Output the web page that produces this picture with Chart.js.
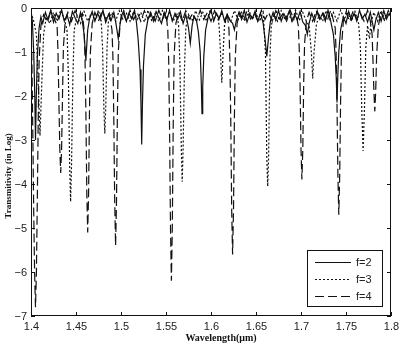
<!DOCTYPE html>
<html>
<head>
<meta charset="utf-8">
<script src="https://cdn.jsdelivr.net/npm/chart.js@4"></script>
<style>
  html, body { margin: 0; padding: 0; background: #fff; }
  canvas { display: block; }
</style>
</head>
<body>
<canvas id="spectrum" width="400" height="348"></canvas>
<script>
// axis ticks
const xTicks = [1.4, 1.45, 1.5, 1.55, 1.6, 1.65, 1.7, 1.75, 1.8];
const yTicks = [0, -1, -2, -3, -4, -5, -6, -7];
const seriesNames = ['f=2', 'f=3', 'f=4'];

// f=2 (solid)
const wl2 = [1.400, 1.4015, 1.403, 1.4042, 1.405, 1.4058, 1.407, 1.409, 1.411, 1.413, 1.416, 1.419, 1.422, 1.425, 1.428, 1.431, 1.434, 1.437, 1.440, 1.443, 1.446, 1.449, 1.452, 1.455, 1.457, 1.459, 1.4602, 1.461, 1.4618, 1.463, 1.465, 1.468, 1.471, 1.474, 1.477, 1.480, 1.483, 1.486, 1.489, 1.492, 1.494, 1.4955, 1.497, 1.4985, 1.500, 1.503, 1.506, 1.509, 1.512, 1.515, 1.517, 1.519, 1.5212, 1.5222, 1.523, 1.5238, 1.525, 1.527, 1.530, 1.533, 1.536, 1.539, 1.542, 1.545, 1.548, 1.551, 1.554, 1.557, 1.560, 1.563, 1.566, 1.569, 1.572, 1.575, 1.577, 1.579, 1.581, 1.584, 1.586, 1.588, 1.5892, 1.590, 1.5908, 1.592, 1.594, 1.597, 1.600, 1.603, 1.606, 1.609, 1.612, 1.615, 1.618, 1.621, 1.624, 1.626, 1.628, 1.631, 1.634, 1.637, 1.640, 1.643, 1.646, 1.649, 1.652, 1.655, 1.658, 1.660, 1.662, 1.664, 1.666, 1.669, 1.672, 1.675, 1.678, 1.681, 1.684, 1.687, 1.690, 1.693, 1.696, 1.699, 1.702, 1.705, 1.707, 1.709, 1.712, 1.715, 1.718, 1.721, 1.724, 1.727, 1.730, 1.733, 1.736, 1.738, 1.7392, 1.740, 1.7408, 1.742, 1.744, 1.747, 1.750, 1.753, 1.756, 1.759, 1.762, 1.765, 1.768, 1.771, 1.774, 1.777, 1.779, 1.781, 1.783, 1.786, 1.789, 1.792, 1.795, 1.798, 1.800];
const t2 = [-0.05, -0.3, -1.0, -2.0, -3.0, -2.1, -1.1, -0.45, -0.2, -0.35, -0.1, -0.28, -0.05, -0.32, -0.12, -0.25, -0.04, -0.3, -0.15, -0.38, -0.08, -0.22, -0.35, -0.1, -0.3, -0.6, -0.95, -1.2, -0.9, -0.5, -0.25, -0.08, -0.3, -0.12, -0.26, -0.05, -0.33, -0.15, -0.28, -0.1, -0.3, -0.5, -0.7, -0.45, -0.2, -0.06, -0.3, -0.12, -0.25, -0.05, -0.3, -0.7, -1.4, -2.2, -3.1, -2.2, -1.3, -0.6, -0.25, -0.1, -0.3, -0.08, -0.22, -0.35, -0.1, -0.27, -0.05, -0.3, -0.12, -0.25, -0.08, -0.35, -0.15, -0.45, -0.8, -0.4, -0.2, -0.3, -0.55, -1.0, -1.7, -2.4, -1.8, -1.1, -0.5, -0.2, -0.05, -0.3, -0.12, -0.25, -0.06, -0.3, -0.15, -0.28, -0.35, -0.5, -0.3, -0.1, -0.26, -0.05, -0.32, -0.14, -0.24, -0.07, -0.3, -0.12, -0.35, -0.7, -1.1, -0.65, -0.3, -0.1, -0.28, -0.05, -0.3, -0.13, -0.25, -0.06, -0.3, -0.15, -0.27, -0.08, -0.32, -0.4, -0.6, -0.35, -0.12, -0.3, -0.06, -0.25, -0.12, -0.3, -0.05, -0.3, -0.6, -1.1, -1.6, -2.15, -1.6, -1.0, -0.5, -0.2, -0.35, -0.08, -0.27, -0.12, -0.3, -0.05, -0.25, -0.14, -0.32, -0.1, -0.3, -0.5, -0.28, -0.1, -0.3, -0.06, -0.25, -0.12, -0.2];

// f=3 (dotted)
const wl3 = [1.400, 1.403, 1.406, 1.4075, 1.409, 1.410, 1.411, 1.4125, 1.414, 1.417, 1.421, 1.425, 1.429, 1.433, 1.437, 1.440, 1.4415, 1.443, 1.444, 1.445, 1.4465, 1.448, 1.451, 1.455, 1.459, 1.463, 1.467, 1.471, 1.475, 1.478, 1.4795, 1.481, 1.482, 1.483, 1.4845, 1.486, 1.490, 1.494, 1.498, 1.502, 1.506, 1.510, 1.514, 1.518, 1.522, 1.526, 1.530, 1.534, 1.538, 1.542, 1.546, 1.550, 1.554, 1.558, 1.562, 1.564, 1.5655, 1.567, 1.568, 1.569, 1.5705, 1.572, 1.575, 1.579, 1.583, 1.587, 1.591, 1.595, 1.599, 1.603, 1.607, 1.609, 1.6105, 1.612, 1.6135, 1.615, 1.618, 1.622, 1.626, 1.630, 1.634, 1.638, 1.642, 1.646, 1.650, 1.654, 1.658, 1.6605, 1.662, 1.663, 1.664, 1.6655, 1.667, 1.670, 1.674, 1.678, 1.682, 1.686, 1.690, 1.694, 1.698, 1.702, 1.706, 1.709, 1.7115, 1.713, 1.7145, 1.717, 1.720, 1.724, 1.728, 1.732, 1.736, 1.740, 1.744, 1.748, 1.752, 1.756, 1.760, 1.764, 1.766, 1.7675, 1.769, 1.7705, 1.772, 1.774, 1.776, 1.778, 1.781, 1.785, 1.789, 1.793, 1.797, 1.800];
const t3 = [-0.1, -0.3, -0.6, -1.4, -2.3, -2.9, -2.3, -1.4, -0.6, -0.2, -0.35, -0.1, -0.3, -0.05, -0.25, -0.5, -1.5, -3.6, -4.4, -3.6, -1.6, -0.5, -0.2, -0.35, -0.08, -0.3, -0.12, -0.28, -0.05, -0.3, -0.9, -2.3, -2.85, -2.3, -0.9, -0.3, -0.1, -0.3, -0.06, -0.25, -0.12, -0.3, -0.08, -0.26, -0.1, -0.32, -0.05, -0.28, -0.12, -0.3, -0.06, -0.25, -0.1, -0.3, -0.12, -0.4, -1.3, -3.2, -3.95, -3.2, -1.4, -0.45, -0.15, -0.3, -0.06, -0.27, -0.1, -0.3, -0.05, -0.25, -0.12, -0.4, -1.0, -1.7, -1.0, -0.4, -0.15, -0.3, -0.06, -0.26, -0.1, -0.3, -0.05, -0.25, -0.12, -0.3, -0.1, -1.0, -3.4, -4.05, -3.4, -1.1, -0.4, -0.15, -0.3, -0.06, -0.25, -0.12, -0.3, -0.05, -0.28, -0.1, -0.3, -0.4, -1.0, -1.6, -1.0, -0.4, -0.15, -0.3, -0.06, -0.26, -0.1, -0.3, -0.05, -0.25, -0.12, -0.3, -0.08, -0.35, -0.9, -2.3, -3.25, -2.3, -0.9, -0.4, -0.7, -0.3, -0.1, -0.3, -0.06, -0.25, -0.12, -0.2];

// f=4 (dashed)
const wl4 = [1.400, 1.401, 1.402, 1.403, 1.404, 1.405, 1.406, 1.407, 1.408, 1.409, 1.411, 1.414, 1.418, 1.422, 1.426, 1.429, 1.430, 1.431, 1.432, 1.433, 1.434, 1.435, 1.436, 1.438, 1.441, 1.445, 1.449, 1.453, 1.457, 1.459, 1.460, 1.461, 1.462, 1.463, 1.464, 1.465, 1.466, 1.468, 1.471, 1.475, 1.479, 1.483, 1.487, 1.490, 1.491, 1.492, 1.493, 1.494, 1.495, 1.496, 1.497, 1.499, 1.502, 1.506, 1.510, 1.514, 1.518, 1.522, 1.526, 1.530, 1.534, 1.538, 1.542, 1.546, 1.550, 1.552, 1.553, 1.554, 1.555, 1.556, 1.557, 1.558, 1.559, 1.561, 1.564, 1.568, 1.572, 1.576, 1.580, 1.584, 1.588, 1.592, 1.596, 1.600, 1.604, 1.608, 1.612, 1.616, 1.618, 1.620, 1.621, 1.622, 1.623, 1.624, 1.625, 1.626, 1.627, 1.629, 1.632, 1.636, 1.640, 1.644, 1.648, 1.652, 1.656, 1.660, 1.664, 1.668, 1.672, 1.676, 1.680, 1.684, 1.688, 1.692, 1.694, 1.697, 1.698, 1.699, 1.700, 1.701, 1.702, 1.703, 1.704, 1.706, 1.709, 1.713, 1.717, 1.721, 1.725, 1.729, 1.733, 1.736, 1.738, 1.739, 1.740, 1.741, 1.742, 1.743, 1.744, 1.745, 1.747, 1.750, 1.754, 1.758, 1.762, 1.766, 1.770, 1.774, 1.777, 1.779, 1.780, 1.781, 1.782, 1.783, 1.784, 1.786, 1.789, 1.793, 1.797, 1.800];
const t4 = [-0.4, -1.2, -2.8, -4.6, -6.0, -6.8, -6.0, -4.4, -2.6, -1.2, -0.4, -0.15, -0.3, -0.06, -0.25, -0.4, -1.0, -2.1, -3.2, -3.75, -3.2, -2.0, -0.9, -0.3, -0.1, -0.3, -0.06, -0.25, -0.12, -0.5, -1.1, -2.4, -4.2, -5.1, -4.2, -2.3, -1.0, -0.35, -0.1, -0.3, -0.06, -0.25, -0.12, -0.5, -1.1, -2.5, -4.4, -5.4, -4.4, -2.4, -1.0, -0.35, -0.1, -0.3, -0.05, -0.26, -0.1, -0.3, -0.06, -0.25, -0.12, -0.3, -0.05, -0.26, -0.1, -0.5, -1.2, -2.8, -5.0, -6.2, -5.0, -2.7, -1.1, -0.35, -0.1, -0.3, -0.06, -0.25, -0.12, -0.3, -0.05, -0.26, -0.1, -0.3, -0.06, -0.25, -0.12, -0.3, -0.1, -0.5, -1.2, -2.6, -4.6, -5.6, -4.6, -2.5, -1.1, -0.35, -0.1, -0.3, -0.06, -0.25, -0.12, -0.3, -0.05, -0.26, -0.1, -0.3, -0.06, -0.25, -0.12, -0.3, -0.05, -0.26, -0.1, -0.4, -0.9, -1.8, -3.2, -3.9, -3.2, -1.7, -0.8, -0.3, -0.1, -0.3, -0.06, -0.25, -0.12, -0.3, -0.05, -0.28, -0.45, -1.0, -2.2, -3.8, -4.7, -3.8, -2.1, -0.9, -0.3, -0.1, -0.3, -0.06, -0.25, -0.12, -0.3, -0.05, -0.3, -0.6, -1.2, -1.9, -2.35, -1.9, -1.1, -0.4, -0.1, -0.3, -0.06, -0.2];

const dashes = [[], [2, 2], [9, 4]];
const ink = '#111';

function toPoints(xs, ys) {
    return xs.map((x, i) => ({ x: x, y: ys[i] }));
}

// frame, inward ticks, labels and legend drawn on top of the plot
const framePlugin = {
    id: 'frame',
    afterDraw(chart) {
        const ctx = chart.ctx;
        const area = chart.chartArea;
        const xs = chart.scales.x;
        const ys = chart.scales.y;
        ctx.save();
        ctx.strokeStyle = ink;
        ctx.lineWidth = 1;
        ctx.setLineDash([]);
        ctx.strokeRect(area.left + 0.5, area.top + 0.5, area.right - area.left - 1, area.bottom - area.top - 1);

        ctx.fillStyle = '#222';
        ctx.font = '11px "Liberation Sans", Arial, sans-serif';
        ctx.textAlign = 'center';
        ctx.textBaseline = 'top';
        xTicks.forEach(v => {
            const px = Math.round(xs.getPixelForValue(v)) + 0.5;
            ctx.beginPath();
            ctx.moveTo(px, area.bottom);
            ctx.lineTo(px, area.bottom - 4);
            ctx.moveTo(px, area.top);
            ctx.lineTo(px, area.top + 4);
            ctx.stroke();
            ctx.fillText(String(v), px, area.bottom + 5);
        });
        ctx.textAlign = 'right';
        ctx.textBaseline = 'middle';
        yTicks.forEach(v => {
            const py = Math.round(ys.getPixelForValue(v)) + 0.5;
            ctx.beginPath();
            ctx.moveTo(area.left, py);
            ctx.lineTo(area.left + 4, py);
            ctx.moveTo(area.right, py);
            ctx.lineTo(area.right - 4, py);
            ctx.stroke();
            ctx.fillText(v === 0 ? '0' : '\u2212' + Math.abs(v), area.left - 4, py);
        });

        // axis titles
        ctx.fillStyle = '#111';
        ctx.textAlign = 'center';
        ctx.textBaseline = 'middle';
        ctx.font = 'bold 10px "Liberation Serif", "Times New Roman", serif';
        ctx.fillText('Wavelength(\u03bcm)', 221, 338);
        ctx.save();
        ctx.translate(9, 176);
        ctx.rotate(-Math.PI / 2);
        ctx.font = 'bold 9px "Liberation Serif", "Times New Roman", serif';
        ctx.fillText('Transmitivity (in Log)', 0, 0);
        ctx.restore();

        // legend box
        const lx = 307, ly = 250, lw = 75, lh = 56;
        ctx.fillStyle = '#fff';
        ctx.fillRect(lx, ly, lw, lh);
        ctx.strokeRect(lx + 0.5, ly + 0.5, lw, lh);
        ctx.font = '11px "Liberation Sans", Arial, sans-serif';
        ctx.textAlign = 'left';
        seriesNames.forEach((name, i) => {
            const ry = ly + 12 + i * 17;
            ctx.setLineDash(dashes[i]);
            ctx.lineWidth = 1.2;
            ctx.beginPath();
            ctx.moveTo(315, ry + 0.5);
            ctx.lineTo(351, ry + 0.5);
            ctx.stroke();
            ctx.setLineDash([]);
            ctx.fillStyle = '#222';
            ctx.fillText(name, 356, ry + 1);
        });
        ctx.restore();
    }
};

new Chart(document.getElementById('spectrum'), {
    type: 'line',
    data: {
        datasets: [
            { label: seriesNames[0], data: toPoints(wl2, t2), borderDash: dashes[0] },
            { label: seriesNames[1], data: toPoints(wl3, t3), borderDash: dashes[1] },
            { label: seriesNames[2], data: toPoints(wl4, t4), borderDash: dashes[2] }
        ].map(d => Object.assign(d, {
            borderColor: ink,
            borderWidth: 1.2,
            pointRadius: 0,
            tension: 0,
            fill: false
        }))
    },
    options: {
        responsive: false,
        animation: false,
        layout: { padding: { left: 31, right: 9, top: 8, bottom: 32 } },
        plugins: { legend: { display: false }, tooltip: { enabled: false } },
        scales: {
            x: { type: 'linear', min: 1.4, max: 1.8, display: false },
            y: { type: 'linear', min: -7, max: 0, display: false }
        }
    },
    plugins: [framePlugin]
});
</script>
</body>
</html>
